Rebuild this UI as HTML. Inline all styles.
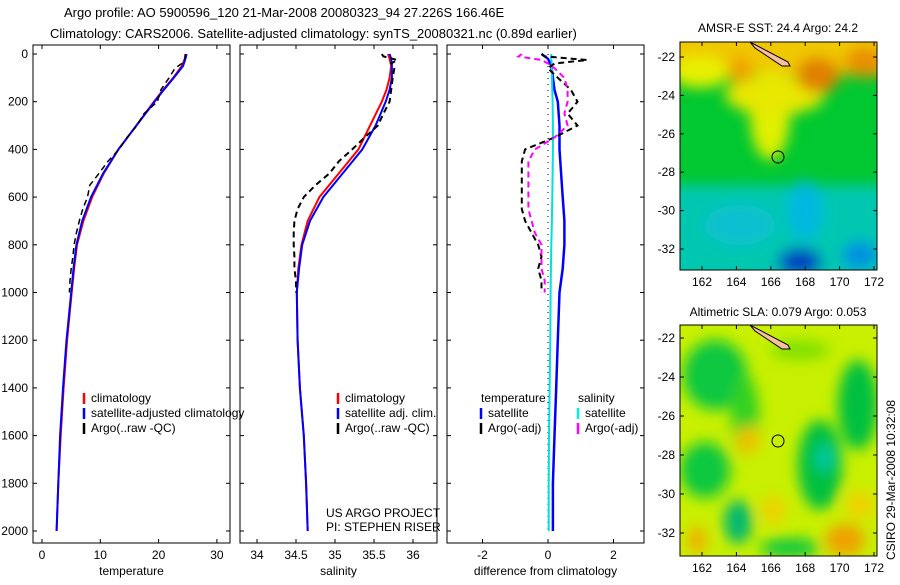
<!DOCTYPE html>
<html><head><meta charset="utf-8"><style>
body{margin:0;background:#fff}
svg text{font-family:"Liberation Sans",sans-serif;fill:#000}
</style></head><body>
<svg id="fig" width="900" height="580" xmlns="http://www.w3.org/2000/svg">
<defs>
<filter id="blur1" x="-50%" y="-50%" width="200%" height="200%"><feGaussianBlur stdDeviation="7"/></filter>
<clipPath id="clipm1"><rect x="680" y="42" width="197" height="228"/></clipPath>
<clipPath id="clipm2"><rect x="680" y="325" width="197" height="231"/></clipPath>
</defs>
<text x="64" y="17" font-size="13">Argo profile: AO 5900596_120 21-Mar-2008 20080323_94 27.226S 166.46E</text>
<text x="50" y="38" font-size="13">Climatology: CARS2006. Satellite-adjusted climatology: synTS_20080321.nc (0.89d earlier)</text>

<!-- map 1 -->
<g clip-path="url(#clipm1)">
<rect x="680" y="42" width="197" height="228" fill="#00c830"/>
<g filter="url(#blur1)">
<rect x="660" y="20" width="240" height="55" fill="#f0c800"/>
<ellipse cx="700" cy="72" rx="30" ry="16" fill="#e8f000"/>
<ellipse cx="770" cy="115" rx="20" ry="45" fill="#e0f000"/>
<ellipse cx="775" cy="95" rx="50" ry="20" fill="#e8e800"/>
<ellipse cx="818" cy="75" rx="22" ry="18" fill="#e08000"/>
<ellipse cx="740" cy="70" rx="12" ry="14" fill="#f0a000"/>
<ellipse cx="865" cy="62" rx="20" ry="16" fill="#e89000"/>
<rect x="660" y="185" width="240" height="105" fill="#00c8b0"/>
<ellipse cx="740" cy="225" rx="35" ry="20" fill="#10c0d0"/>
<ellipse cx="805" cy="210" rx="18" ry="30" fill="#00b8e0"/>
<ellipse cx="800" cy="262" rx="22" ry="14" fill="#0040c0"/>
<ellipse cx="860" cy="255" rx="18" ry="14" fill="#0090e0"/>
</g>
<path d="M750,42 L788,62 L790,66 L782,66 L755,48Z" fill="#f8c0a0" stroke="#000"/>
<circle cx="778" cy="157" r="6" fill="none" stroke="#000"/>
</g>
<rect x="680" y="42" width="197" height="228" fill="none" stroke="#000"/>
<text x="778" y="32" font-size="12" text-anchor="middle">AMSR-E SST: 24.4 Argo: 24.2</text>

<!-- map 2 -->
<g clip-path="url(#clipm2)">
<rect x="680" y="325" width="197" height="231" fill="#c8f000"/>
<g filter="url(#blur1)">
<ellipse cx="715" cy="375" rx="32" ry="35" fill="#10c840"/>
<ellipse cx="705" cy="470" rx="25" ry="28" fill="#10c840"/>
<ellipse cx="745" cy="415" rx="14" ry="40" fill="#30d020"/>
<ellipse cx="820" cy="465" rx="22" ry="45" fill="#00c040"/>
<ellipse cx="825" cy="458" rx="10" ry="14" fill="#00c8a0"/>
<ellipse cx="858" cy="405" rx="20" ry="45" fill="#00c040"/>
<ellipse cx="738" cy="522" rx="14" ry="22" fill="#00b870"/>
<ellipse cx="790" cy="548" rx="30" ry="10" fill="#10c840"/>
<ellipse cx="800" cy="350" rx="30" ry="10" fill="#80e000"/>
<ellipse cx="748" cy="440" rx="12" ry="14" fill="#f0c000"/>
<ellipse cx="845" cy="540" rx="20" ry="16" fill="#f0a000"/>
<ellipse cx="697" cy="540" rx="10" ry="14" fill="#f0b000"/>
<ellipse cx="773" cy="510" rx="12" ry="14" fill="#f0d000"/>
<ellipse cx="860" cy="505" rx="14" ry="14" fill="#f0d000"/>
</g>
<path d="M750,325 L788,345 L790,349 L782,349 L755,331Z" fill="#f8c0a0" stroke="#000"/>
<circle cx="778" cy="441" r="6" fill="none" stroke="#000"/>
</g>
<rect x="680" y="325" width="197" height="231" fill="none" stroke="#000"/>
<text x="778" y="316" font-size="12" text-anchor="middle">Altimetric SLA: 0.079 Argo: 0.053</text>
<text transform="translate(895,560) rotate(-90)" font-size="12">CSIRO 29-Mar-2008 10:32:08</text>
<g id="maxes"></g>

<g id="plots"></g>
</svg>
<script>
const depthT = [0,20,50,100,150,200,300,400,500,600,700,800,900,1000,1200,1400,1600,1800,2000];
const tempClim = [24.6,24.5,24.0,22.5,20.8,19.2,16.2,13.1,10.6,8.6,7.1,6.0,5.5,5.1,4.3,3.7,3.2,2.8,2.5];
const tempSat = [24.8,24.6,24.2,22.6,20.9,19.3,16.2,13.1,10.5,8.4,6.9,5.9,5.4,5.0,4.2,3.6,3.1,2.8,2.5];
const depthA = [0,10,25,40,60,100,150,200,250,300,350,400,450,500,550,600,650,700,750,800,850,900,950,1000];
const tempArgo = [24.6,24.6,24.4,24.0,22.8,21.8,20.4,19.8,17.5,16.3,14.6,13.2,11.3,9.8,8.2,7.8,7.0,6.4,5.9,5.5,5.3,5.0,4.8,4.7];
const salClim = [35.68,35.7,35.72,35.7,35.66,35.6,35.45,35.3,35.05,34.8,34.65,34.57,34.53,34.51,34.52,34.55,34.6,34.63,34.65];
const salSat = [35.7,35.72,35.73,35.73,35.7,35.65,35.52,35.35,35.1,34.85,34.68,34.58,34.54,34.51,34.52,34.55,34.6,34.63,34.65];
const salArgo = [35.6,35.62,35.8,35.72,35.76,35.74,35.72,35.7,35.62,35.55,35.38,35.22,35.05,34.93,34.75,34.6,34.52,34.48,34.47,34.47,34.48,34.48,34.5,34.5];
const dTempSat = [-0.2,0.0,0.1,0.15,0.2,0.3,0.35,0.35,0.4,0.45,0.5,0.5,0.45,0.35,0.3,0.25,0.2,0.15,0.15];
const dSalSat = [0.1,0.1,0.12,0.12,0.13,0.14,0.15,0.15,0.14,0.13,0.12,0.1,0.09,0.08,0.07,0.05,0.03,0.02,0.02];
const dTempArgo = [-0.2,-0.1,1.2,0.2,0.0,0.3,0.7,0.9,0.6,0.9,0.2,-0.7,-0.8,-0.8,-0.8,-0.8,-0.8,-0.7,-0.5,-0.3,-0.2,-0.3,-0.2,-0.2];
const dSalArgo = [-0.8,-0.9,-0.2,0.0,0.2,0.5,0.6,0.6,0.5,0.6,0.2,-0.4,-0.6,-0.6,-0.6,-0.6,-0.6,-0.5,-0.4,-0.2,-0.2,-0.2,-0.1,-0.1];
const depthTicks = [0,200,400,600,800,1000,1200,1400,1600,1800,2000];
const tTicks = [0,10,20,30];
const sTicks = [34,34.5,35,35.5,36];
const dTicks = [-2,0,2];
const lonTicks = [162,164,166,168,170,172];
const latTicks = [-22,-24,-26,-28,-30,-32];

const NS='http://www.w3.org/2000/svg';
const plots=document.getElementById('plots');
function mk(tag,attrs,parent){const e=document.createElementNS(NS,tag);for(const k in attrs)e.setAttribute(k,attrs[k]);(parent||plots).appendChild(e);return e;}
const yD = d => 54 + d*0.2385;
const panels=[
 {x0:33,w:197,sx:v=>42+v*5.83,ticks:tTicks,label:'temperature',name:'temperature'},
 {x0:240,w:197,sx:v=>296+(v-34.5)*78,ticks:sTicks,label:'salinity',name:'salinity'},
 {x0:447,w:197,sx:v=>548+v*32.75,ticks:dTicks,label:'difference from climatology',name:'difference'}
];
function line(p,ds,vs,color,dash,width,name){
  const pts=ds.map((d,i)=>p.sx(vs[i]).toFixed(1)+','+yD(d).toFixed(1)).join(' ');
  const el=mk('polyline',{points:pts,fill:'none',stroke:color,'stroke-width':width,'stroke-dasharray':dash||'none'});
  
  
}
panels.forEach((p,pi)=>{
  const r=mk('rect',{x:p.x0,y:45,width:p.w,height:498,fill:'none',stroke:'#000'});
  
  
  depthTicks.forEach(d=>{
    mk('line',{x1:p.x0,x2:p.x0+4,y1:yD(d),y2:yD(d),stroke:'#000'});
    mk('line',{x1:p.x0+p.w,x2:p.x0+p.w-4,y1:yD(d),y2:yD(d),stroke:'#000'});
    if(pi===0){const t=mk('text',{x:28,y:yD(d)+4,'font-size':12,'text-anchor':'end'});t.textContent=d;
      
      }
  });
  p.ticks.forEach(v=>{
    const x=p.sx(v);
    mk('line',{x1:x,x2:x,y1:543,y2:539,stroke:'#000'});
    mk('line',{x1:x,x2:x,y1:45,y2:49,stroke:'#000'});
    const t=mk('text',{x:x,y:559,'font-size':12,'text-anchor':'middle'});t.textContent=v;
    
    
  });
  const l=mk('text',{x:p.x0+p.w/2,y:575,'font-size':12,'text-anchor':'middle'});l.textContent=p.label;
  
  
});
const P=panels;
line(P[0],depthT,tempClim,'#ff0000',null,2,'temp-climatology-line');
line(P[0],depthT,tempSat,'#0000ff',null,2,'temp-satellite-line');
line(P[0],depthA,tempArgo,'#000',"6,4",1.5,'temp-argo-line');
line(P[1],depthT,salClim,'#ff0000',null,2,'sal-climatology-line');
line(P[1],depthT,salSat,'#0000ff',null,2,'sal-satellite-line');
line(P[1],depthA,salArgo,'#000',"6,4",2,'sal-argo-line');
const zl=mk('line',{x1:P[2].sx(0),x2:P[2].sx(0),y1:yD(0),y2:yD(2000),stroke:'#000','stroke-dasharray':'1,5'});


line(P[2],depthT,dTempSat,'#0000ff',null,2.5,'diff-temp-satellite-line');
line(P[2],depthT,dSalSat,'#00e0e0',null,2,'diff-sal-satellite-line');
line(P[2],depthA,dTempArgo,'#000',"6,4",2,'diff-temp-argo-line');
line(P[2],depthA,dSalArgo,'#ff00ff',"6,4",2,'diff-sal-argo-line');

function legend(x,y,items,name){
  items.forEach((it,i)=>{
    const yy=y+i*15;
    if(it.c){const m=mk('line',{x1:x,x2:x,y1:yy-9,y2:yy+2,stroke:it.c,'stroke-width':2.5});
      
      }
    const t=mk('text',{x:x+(it.c?7:0),y:yy,'font-size':12});t.textContent=it.t;
    
    
  });
}
legend(84,402,[{t:'climatology',c:'#f00'},{t:'satellite-adjusted climatology',c:'#00f'},{t:'Argo(..raw -QC)',c:'#000'}],'temp-legend');
legend(338,402,[{t:'climatology',c:'#f00'},{t:'satellite adj. clim.',c:'#00f'},{t:'Argo(..raw -QC)',c:'#000'}],'sal-legend');
legend(481,402,[{t:'temperature'},{t:'satellite',c:'#00f'},{t:'Argo(-adj)',c:'#000'}],'diff-temp-legend');
legend(578,402,[{t:'salinity'},{t:'satellite',c:'#0ee'},{t:'Argo(-adj)',c:'#f0f'}],'diff-sal-legend');
const c1=mk('text',{x:326,y:517,'font-size':12});c1.textContent='US ARGO PROJECT';


const c2=mk('text',{x:326,y:531,'font-size':12});c2.textContent='PI: STEPHEN RISER';



// map axes
const maxes=document.getElementById('maxes');
[[42,270,57,19.2],[325,556,338,19.5]].forEach((m,mi)=>{
  lonTicks.forEach(v=>{
    const x=702+(v-162)*17.2;
    mk('line',{x1:x,x2:x,y1:m[1],y2:m[1]-4,stroke:'#000'},maxes);
    mk('line',{x1:x,x2:x,y1:m[0],y2:m[0]+4,stroke:'#000'},maxes);
    const t=mk('text',{x:x,y:m[1]+16,'font-size':12,'text-anchor':'middle'},maxes);t.textContent=v;
    
    
  });
  latTicks.forEach(v=>{
    const y=m[2]+(-22-v)*m[3];
    mk('line',{x1:680,x2:684,y1:y,y2:y,stroke:'#000'},maxes);
    mk('line',{x1:877,x2:873,y1:y,y2:y,stroke:'#000'},maxes);
    const t=mk('text',{x:675,y:y+4,'font-size':12,'text-anchor':'end'},maxes);t.textContent=v;
    
    
  });
});
</script>
</body></html>
